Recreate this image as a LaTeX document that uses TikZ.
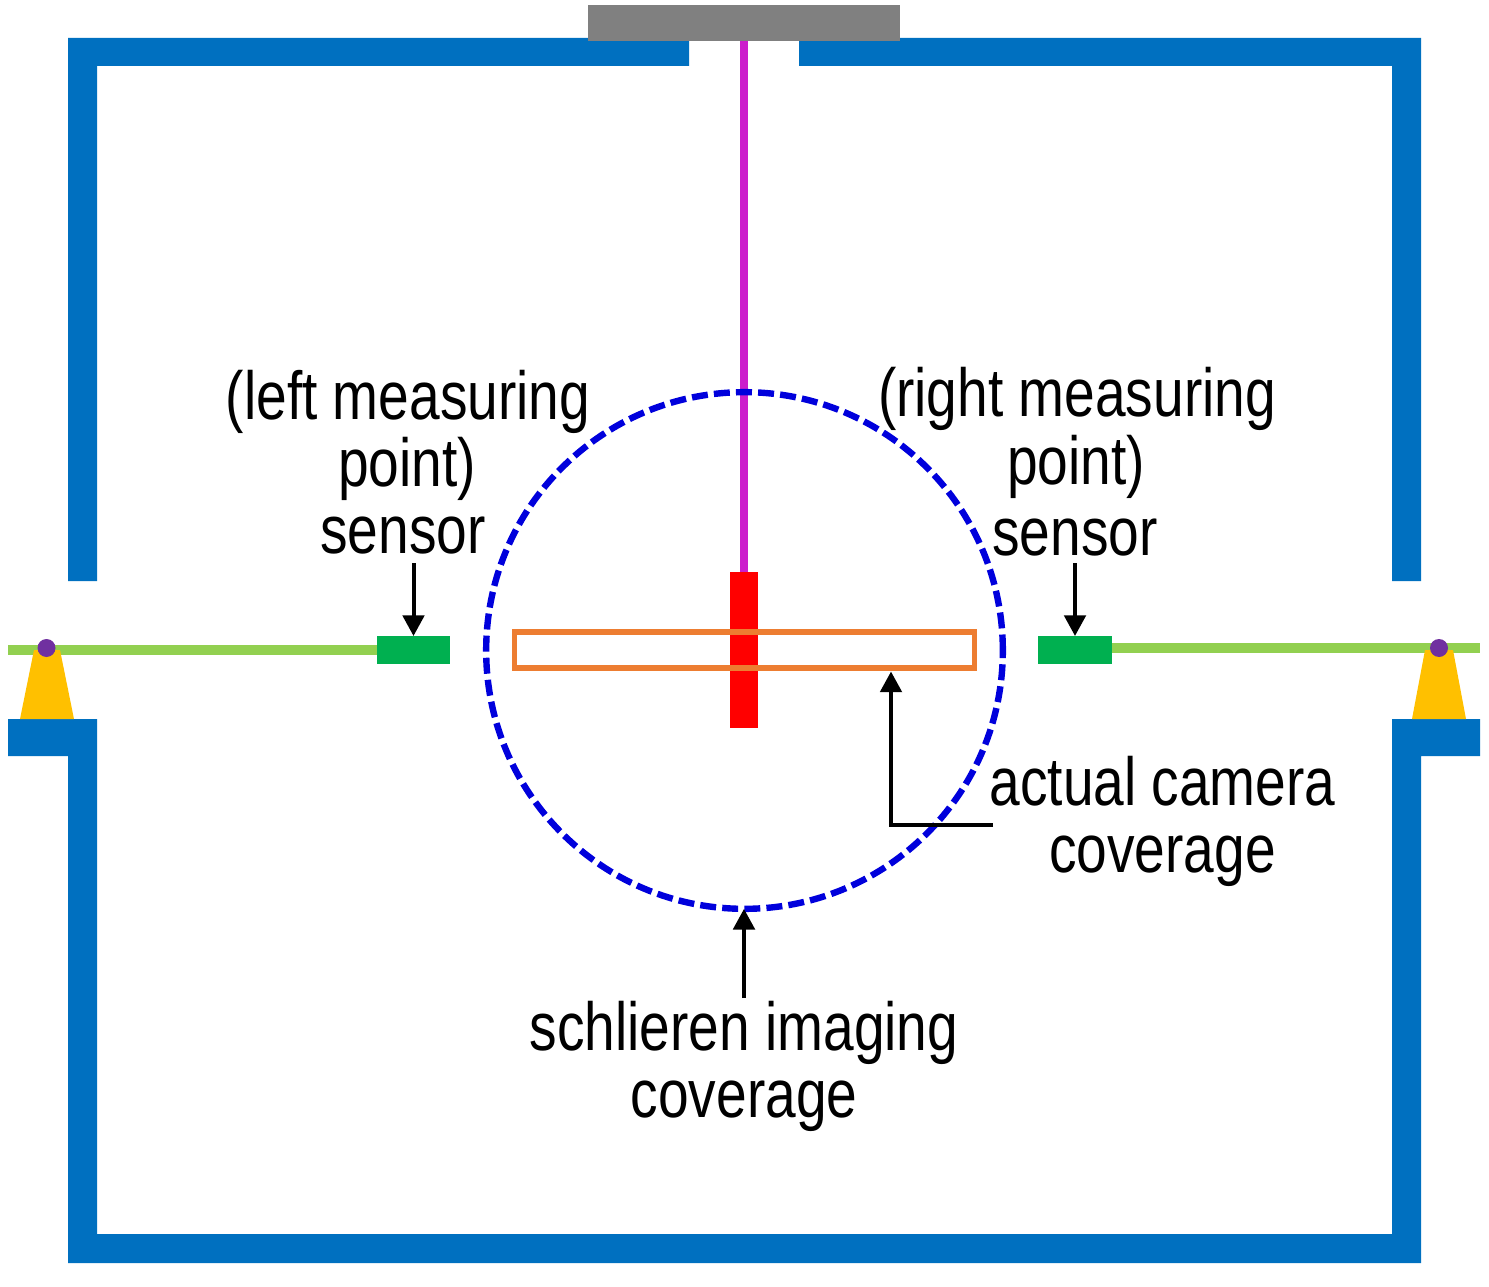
\documentclass[tikz,border=0pt]{standalone}
\usepackage{fontspec}
\setmainfont[FakeStretch=0.81]{Liberation Sans}
\usetikzlibrary{arrows.meta}
\definecolor{wall}{RGB}{0,112,192}
\definecolor{mount}{RGB}{128,128,128}
\definecolor{rod}{RGB}{204,30,204}
\definecolor{model}{RGB}{255,0,0}
\definecolor{cam}{RGB}{237,125,49}
\definecolor{schl}{RGB}{0,0,220}
\definecolor{sens}{RGB}{0,176,80}
\definecolor{arm}{RGB}{146,208,80}
\definecolor{base}{RGB}{255,192,0}
\definecolor{pivot}{RGB}{112,48,160}
\tikzset{
  block/.style={inner sep=0pt,outer sep=0pt,minimum width=0pt,minimum height=0pt},
  lbl/.style={anchor=base,inner sep=0pt,font=\fontsize{51}{51}\selectfont},
  callout/.style={line width=3pt,-{Triangle[length=15.5pt,width=16pt]}},
}
\begin{document}
\begin{tikzpicture}[x=0.75pt,y=-0.75pt]
\useasboundingbox (0,0) rectangle (1489,1287);
% walls
\fill[wall] (68,38) -- (689,38) -- (689,66) -- (97,66) -- (97,581) -- (68,581) -- cycle;
\fill[wall] (799,38) -- (1421,38) -- (1421,581) -- (1392,581) -- (1392,66) -- (799,66) -- cycle;
\fill[wall] (8,719) -- (97,719) -- (97,1234) -- (1392,1234) -- (1392,719) -- (1480,719) -- (1480,756) -- (1421,756) -- (1421,1263) -- (68,1263) -- (68,756) -- (8,756) -- cycle;
% top mount and rod
\fill[rod] (740,41) rectangle (748,572);
\fill[mount] (588,5) rectangle (900,41);
% model
\fill[model] (730,572) rectangle (758,728);
% camera coverage
\node[block,draw=cam,line width=4.2pt,minimum width=345pt,minimum height=27pt] (camrect) at (744.5,650) {};
% schlieren coverage
\node[block,circle,draw=schl,line width=4.8pt,dash pattern=on 12pt off 4.6pt,minimum size=387.5pt] (schlcirc) at (744.5,650.5) {};
% arms
\fill[arm] (8,645) rectangle (377,655);
\fill[arm] (1112,643) rectangle (1480,653);
% sensors
\node[block,fill=sens,minimum width=54.75pt,minimum height=21pt] (sensL) at (413.5,650) {};
\node[block,fill=sens,minimum width=55.5pt,minimum height=21pt] (sensR) at (1075,650) {};
% supports
\fill[base] (20,719) -- (74,719) -- (60,650) -- (34,650) -- cycle;
\fill[base] (1412,719) -- (1466,719) -- (1453,650) -- (1425,650) -- cycle;
\node[block,circle,fill=pivot,minimum size=13.5pt] (pivL) at (46.5,648) {};
\node[block,circle,fill=pivot,minimum size=13.5pt] (pivR) at (1439,648) {};
% labels
\node[lbl] (l1) at (408,420) {(left measuring};
\node[lbl] (l2) at (407,487) {point)};
\node[lbl] (l3) at (403,553) {sensor};
\node[lbl] (r1) at (1077,417) {(right measuring};
\node[lbl] (r2) at (1076,484) {point)};
\node[lbl] (r3) at (1075,555) {sensor};
\node[lbl] (c1) at (1162.5,805) {actual camera};
\node[lbl] (c2) at (1162.5,872) {coverage};
\node[lbl] (s1) at (744,1050) {schlieren imaging};
\node[lbl] (s2) at (744,1117) {coverage};
% connectors
\coordinate (aL) at (413.5,563);
\coordinate (aR) at (1075,563);
\coordinate (aC) at (993,825);
\coordinate (aCt) at (891,671.5);
\coordinate (aS) at (744,998);
\draw[callout] (aL) -- (sensL.north);
\draw[callout] (aR) -- (sensR.north);
\draw[callout] (aC) -- (aCt |- aC) -- (aCt);
\draw[callout] (aS) -- (schlcirc.south -| aS);
\end{tikzpicture}
\end{document}
